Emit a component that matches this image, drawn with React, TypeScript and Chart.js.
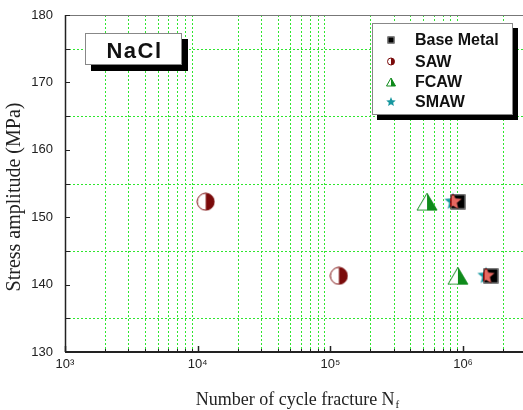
import React, { useEffect, useRef } from 'react';
import { Chart, registerables } from 'chart.js';

Chart.register(...registerables);

// ---- data ----
const seriesNames = ['Base Metal', 'SAW', 'FCAW', 'SMAW'];
const baseMetalCycles = [9.15e5, 1.62e6];
const baseMetalStress = [152.3, 141.3];
const sawCycles = [1.15e4, 1.16e5];
const sawStress = [152.3, 141.3];
const fcawCycles = [5.35e5, 9.15e5];
const fcawStress = [152.3, 141.3];
const smawCycles = [8.4e5, 1.49e6];
const smawStress = [152.3, 141.3];

const xDecades = [1e3, 1e4, 1e5, 1e6];
const xDecadeLabels = ['10³', '10⁴', '10⁵', '10⁶'];
const xMantissas = [1, 2, 3, 4, 5, 6, 7, 8, 9];
const xMin = 1e3;
const xMax = 2.83e6;

const yMin = 130;
const yMax = 180;
const yStep = 5;
const yLabelEvery = 10;

const xTitle = 'Number of cycle fracture N';
const xTitleSub = 'f';
const yTitle = 'Stress amplitude (MPa)';
const boxLabel = 'NaCl';

// ---- marker drawing ----
const DARK_RED = '#7a0a0a';
const GREEN = '#0e8a1a';
const STAR_COLOR = 'rgb(232,104,96)';

function drawSquare(g: CanvasRenderingContext2D, cx: number, cy: number, s: number) {
  g.fillStyle = '#000';
  g.fillRect(cx - s / 2, cy - s / 2, s, s);
  g.strokeStyle = '#888';
  g.lineWidth = 1;
  g.strokeRect(cx - s / 2 + 0.5, cy - s / 2 + 0.5, s - 1, s - 1);
}
function drawHalfCircle(g: CanvasRenderingContext2D, cx: number, cy: number, r: number) {
  g.beginPath();
  g.arc(cx, cy, r, 0, Math.PI * 2);
  g.fillStyle = '#fff';
  g.fill();
  g.beginPath();
  g.arc(cx, cy, r, -Math.PI / 2, Math.PI / 2);
  g.closePath();
  g.fillStyle = DARK_RED;
  g.fill();
  g.beginPath();
  g.arc(cx, cy, r, 0, Math.PI * 2);
  g.strokeStyle = DARK_RED;
  g.lineWidth = 1;
  g.stroke();
}
function drawHalfTriangle(g: CanvasRenderingContext2D, cx: number, cy: number, w: number, h: number) {
  g.beginPath();
  g.moveTo(cx, cy - h / 2);
  g.lineTo(cx + w / 2, cy + h / 2);
  g.lineTo(cx - w / 2, cy + h / 2);
  g.closePath();
  g.fillStyle = '#fff';
  g.fill();
  g.beginPath();
  g.moveTo(cx, cy - h / 2);
  g.lineTo(cx + w / 2, cy + h / 2);
  g.lineTo(cx, cy + h / 2);
  g.closePath();
  g.fillStyle = GREEN;
  g.fill();
  g.beginPath();
  g.moveTo(cx, cy - h / 2);
  g.lineTo(cx + w / 2, cy + h / 2);
  g.lineTo(cx - w / 2, cy + h / 2);
  g.closePath();
  g.strokeStyle = GREEN;
  g.lineWidth = 1;
  g.stroke();
}
function drawStar(g: CanvasRenderingContext2D, cx: number, cy: number, R: number) {
  const r = R * 0.45;
  g.beginPath();
  for (let i = 0; i < 10; i++) {
    const a = -Math.PI / 2 + (i * Math.PI) / 5;
    const rad = i % 2 === 0 ? R : r;
    const px = cx + rad * Math.cos(a);
    const py = cy + rad * Math.sin(a);
    if (i === 0) g.moveTo(px, py);
    else g.lineTo(px, py);
  }
  g.closePath();
  g.fillStyle = STAR_COLOR;
  g.fill();
}
function makeCanvas(w: number, h: number, draw: (g: CanvasRenderingContext2D, cx: number, cy: number) => void) {
  const c = document.createElement('canvas');
  c.width = w;
  c.height = h;
  const g = c.getContext('2d')!;
  draw(g, w / 2, h / 2);
  return c;
}

const SANS = '"Liberation Sans", Arial, sans-serif';
const SERIF = '"Liberation Serif", "Times New Roman", serif';
const GRID_GREEN = '#2fe62f';

const decorPlugin = {
  id: 'decor',
  beforeDraw(chart: any) {
    const { ctx, width, height } = chart;
    ctx.save();
    ctx.fillStyle = '#fff';
    ctx.fillRect(0, 0, width, height);
    ctx.restore();
  },
  beforeDatasetsDraw(chart: any) {
    const { ctx, chartArea } = chart;
    const xs = chart.scales.x;
    const ys = chart.scales.y;
    ctx.save();
    ctx.strokeStyle = GRID_GREEN;
    ctx.lineWidth = 1;
    ctx.setLineDash([2, 2]);
    xDecades.forEach((d) => {
      xMantissas.forEach((m) => {
        const v = m * d;
        if (m === 1 || v <= xMin || v >= xMax) return;
        const px = Math.round(xs.getPixelForValue(v)) + 0.5;
        ctx.beginPath();
        ctx.moveTo(px, chartArea.top);
        ctx.lineTo(px, chartArea.bottom);
        ctx.stroke();
      });
    });
    for (let v = yMin + yStep; v < yMax; v += yStep) {
      if (v % yLabelEvery === 0) continue;
      const py = Math.round(ys.getPixelForValue(v)) + 0.5;
      ctx.beginPath();
      ctx.moveTo(chartArea.left, py);
      ctx.lineTo(chartArea.right, py);
      ctx.stroke();
    }
    ctx.restore();
  },
  beforeDatasetDraw(chart: any, args: any) {
    if (chart.data.datasets[args.index].label === 'SMAW') {
      chart.ctx.save();
      chart.ctx.globalCompositeOperation = 'difference';
    }
  },
  afterDatasetDraw(chart: any, args: any) {
    if (chart.data.datasets[args.index].label === 'SMAW') {
      chart.ctx.restore();
    }
  },
  afterDraw(chart: any) {
    const { ctx, chartArea } = chart;
    const xs = chart.scales.x;
    const ys = chart.scales.y;
    const { left, right, top, bottom } = chartArea;
    ctx.save();
    // frame
    ctx.strokeStyle = '#777';
    ctx.lineWidth = 1;
    ctx.beginPath();
    ctx.moveTo(left, top + 0.5);
    ctx.lineTo(right, top + 0.5);
    ctx.stroke();
    ctx.strokeStyle = '#222';
    ctx.lineWidth = 1.5;
    ctx.beginPath();
    ctx.moveTo(left + 0.5, top);
    ctx.lineTo(left + 0.5, bottom);
    ctx.stroke();
    ctx.lineWidth = 2;
    ctx.beginPath();
    ctx.moveTo(left, bottom);
    ctx.lineTo(right, bottom);
    ctx.stroke();
    // y ticks (inward)
    ctx.lineWidth = 1;
    for (let v = yMin; v <= yMax; v += yStep) {
      const py = Math.round(ys.getPixelForValue(v)) + 0.5;
      ctx.beginPath();
      ctx.moveTo(left, py);
      ctx.lineTo(left + 5, py);
      ctx.stroke();
    }
    // x ticks (inward)
    xDecades.forEach((d) => {
      xMantissas.forEach((m) => {
        const v = m * d;
        if (v < xMin || v > xMax) return;
        const px = Math.round(xs.getPixelForValue(v)) + 0.5;
        const len = m === 1 ? 6 : 3;
        ctx.lineWidth = m === 1 ? 1.5 : 1;
        ctx.beginPath();
        ctx.moveTo(px, bottom);
        ctx.lineTo(px, bottom - len);
        ctx.stroke();
      });
    });
    // x title with subscript
    ctx.fillStyle = '#222';
    ctx.font = `18px ${SERIF}`;
    const mainW = ctx.measureText(xTitle).width;
    ctx.font = `11px ${SERIF}`;
    const subW = ctx.measureText(xTitleSub).width;
    const cx = 297;
    const startX = cx - (mainW + subW) / 2;
    ctx.textBaseline = 'alphabetic';
    ctx.textAlign = 'left';
    ctx.font = `18px ${SERIF}`;
    ctx.fillText(xTitle, startX, 405);
    ctx.font = `11px ${SERIF}`;
    ctx.fillText(xTitleSub, startX + mainW + 1, 408);
    // y title
    ctx.save();
    ctx.translate(15, 197);
    ctx.rotate(-Math.PI / 2);
    ctx.font = `20px ${SERIF}`;
    ctx.textAlign = 'center';
    ctx.textBaseline = 'middle';
    ctx.fillText(yTitle, 0, 0);
    ctx.restore();
    // NaCl box
    const bx = 85, by = 33, bw = 97, bh = 32;
    ctx.fillStyle = '#000';
    ctx.fillRect(bx + 6, by + 6, bw, bh);
    ctx.fillStyle = '#fff';
    ctx.fillRect(bx, by, bw, bh);
    ctx.strokeStyle = '#888';
    ctx.lineWidth = 1;
    ctx.strokeRect(bx + 0.5, by + 0.5, bw - 1, bh - 1);
    ctx.fillStyle = '#111';
    ctx.font = `bold 22px ${SANS}`;
    ctx.textAlign = 'center';
    ctx.textBaseline = 'alphabetic';
    (ctx as any).letterSpacing = '1.5px';
    ctx.fillText(boxLabel, bx + bw / 2 + 1, by + 25);
    (ctx as any).letterSpacing = '0px';
    // legend box
    const lx = 372, ly = 23, lw = 141, lh = 92;
    ctx.fillStyle = '#000';
    ctx.fillRect(lx + 5, ly + 5, lw, lh);
    ctx.fillStyle = '#fff';
    ctx.fillRect(lx, ly, lw, lh);
    ctx.strokeStyle = '#888';
    ctx.strokeRect(lx + 0.5, ly + 0.5, lw - 1, lh - 1);
    const rows = [40, 61.5, 82, 102];
    const mx = 391;
    drawSquare(ctx, mx, rows[0], 7);
    drawHalfCircle(ctx, mx, rows[1], 3.5);
    drawHalfTriangle(ctx, mx, rows[2], 9, 8);
    ctx.save();
    ctx.globalCompositeOperation = 'difference';
    drawStar(ctx, mx, rows[3], 5);
    ctx.restore();
    ctx.fillStyle = '#111';
    ctx.font = `bold 16px ${SANS}`;
    ctx.textAlign = 'left';
    ctx.textBaseline = 'middle';
    seriesNames.forEach((n, i) => ctx.fillText(n, 415, rows[i] + 1));
    ctx.restore();
  },
};

export default function App() {
  const ref = useRef<HTMLCanvasElement>(null);
  useEffect(() => {
    const canvas = ref.current!;
    const bmImg = makeCanvas(16, 16, (g, cx, cy) => drawSquare(g, cx, cy, 15));
    const sawImg = makeCanvas(19, 19, (g, cx, cy) => drawHalfCircle(g, cx, cy, 8.5));
    const fcawImg = makeCanvas(22, 19, (g, cx, cy) => drawHalfTriangle(g, cx, cy, 20, 17));
    const smawImg = makeCanvas(19, 19, (g, cx, cy) => drawStar(g, cx, cy, 9));
    const pts = (xs: number[], ys: number[]) => xs.map((x, i) => ({ x, y: ys[i] }));
    const chart = new Chart(canvas, {
      type: 'scatter',
      data: {
        datasets: [
          { label: seriesNames[0], data: pts(baseMetalCycles, baseMetalStress), pointStyle: bmImg as any, pointRadius: 8, order: 1 },
          { label: seriesNames[1], data: pts(sawCycles, sawStress), pointStyle: sawImg as any, pointRadius: 9, order: 3 },
          { label: seriesNames[2], data: pts(fcawCycles, fcawStress), pointStyle: fcawImg as any, pointRadius: 10, order: 2 },
          { label: seriesNames[3], data: pts(smawCycles, smawStress), pointStyle: smawImg as any, pointRadius: 9, order: 0 },
        ],
      },
      options: {
        animation: false,
        responsive: true,
        maintainAspectRatio: false,
        layout: { autoPadding: false, padding: { top: 15, left: 0, right: 0, bottom: 0 } },
        plugins: { legend: { display: false }, tooltip: { enabled: false } },
        scales: {
          x: {
            type: 'logarithmic',
            min: xMin,
            max: xMax,
            afterFit: (s: any) => { s.height = 58; s.paddingLeft = 0; s.paddingRight = 0; },
            afterBuildTicks: (s: any) => {
              const t: any[] = [];
              xDecades.forEach((d) => xMantissas.forEach((m) => {
                const v = m * d;
                if (v >= xMin && v <= xMax) t.push({ value: v });
              }));
              s.ticks = t;
            },
            grid: { display: false, drawTicks: false },
            border: { display: false },
            ticks: {
              autoSkip: false,
              maxRotation: 0,
              minRotation: 0,
              padding: 5,
              color: '#222',
              font: { family: SANS, size: 13 },
              callback: (v: any) => {
                const i = xDecades.findIndex((d) => Math.abs(d - Number(v)) < 1e-6 * d);
                return i >= 0 ? xDecadeLabels[i] : '';
              },
            },
          },
          y: {
            type: 'linear',
            min: yMin,
            max: yMax,
            afterFit: (s: any) => { s.width = 65; s.paddingTop = 0; s.paddingBottom = 0; },
            grid: { display: false, drawTicks: false },
            border: { display: false },
            ticks: {
              stepSize: yStep,
              padding: 12,
              color: '#222',
              font: { family: SANS, size: 13 },
              callback: (v: any) => (Number(v) % yLabelEvery === 0 ? String(v) : ''),
            },
          },
        },
      },
      plugins: [decorPlugin],
    });
    return () => chart.destroy();
  }, []);
  return (
    <div style={{ position: 'fixed', left: 0, top: 0, width: 523, height: 410 }}>
      <canvas ref={ref} />
    </div>
  );
}
